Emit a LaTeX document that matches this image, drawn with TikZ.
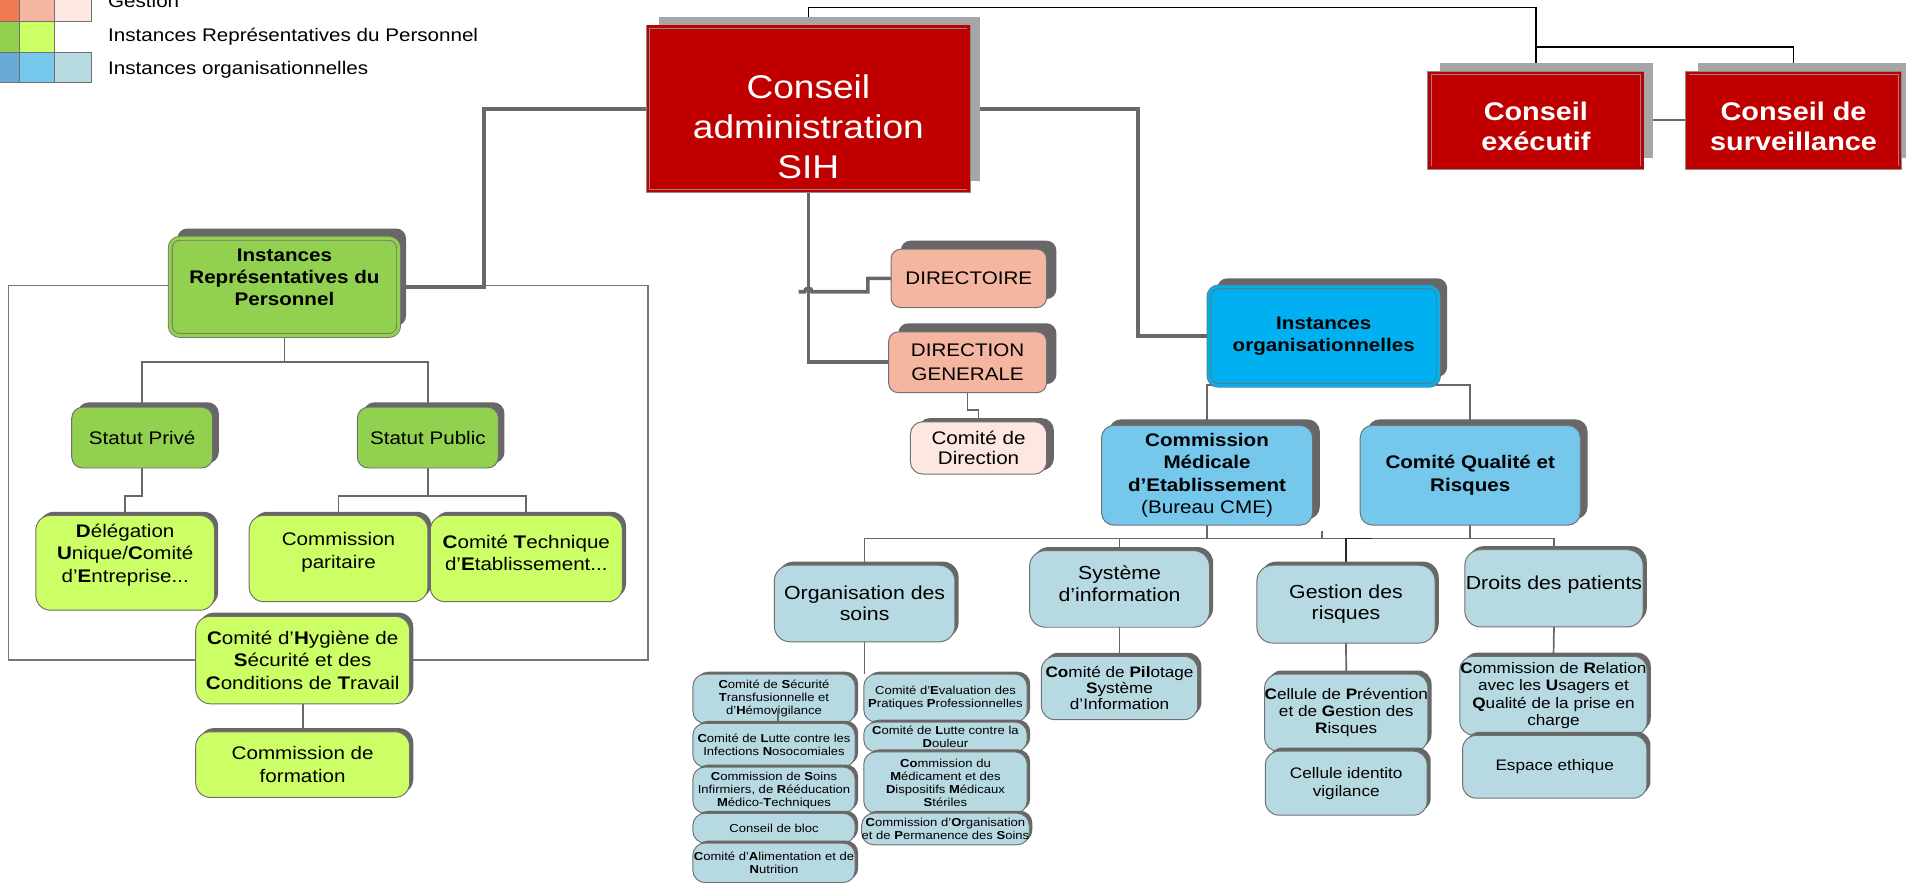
\documentclass[tikz,border=0pt]{standalone}
\usepackage{fontspec}
\setmainfont{Liberation Sans}[FakeStretch=1.13]
\usetikzlibrary{shadows}
\definecolor{cred}{HTML}{C00000}
\definecolor{credb}{HTML}{8A8A8A}
\definecolor{clsh}{HTML}{A6A6A6}
\definecolor{cdsh}{HTML}{686666}
\definecolor{cbord}{HTML}{707070}
\definecolor{cline}{HTML}{686868}
\definecolor{cgreen}{HTML}{92D050}
\definecolor{clime}{HTML}{CCFF66}
\definecolor{cio}{HTML}{00B0F0}
\definecolor{cmid}{HTML}{75C7EC}
\definecolor{cpale}{HTML}{B7D9E1}
\definecolor{csalmon}{HTML}{F4B6A0}
\definecolor{cpink}{HTML}{FCE8E1}
\definecolor{corange}{HTML}{EF7B50}
\definecolor{clegblue}{HTML}{6AAAD7}
\newcommand\fsz[2]{\fontsize{#1}{#2}\selectfont}
\pgfdeclarelayer{bg}
\pgfsetlayers{bg,main}
\begin{document}
\begin{tikzpicture}[x=1pt,y=-1pt,
  every node/.style={inner sep=0pt,outer sep=0pt,align=center},
  legc/.style={draw=cbord,line width=0.8pt},
  redbox/.style={draw=credb,line width=0.7pt,double=cred,double distance=2.2pt,fill=cred,
     general shadow={fill=clsh,shadow xshift=9pt,shadow yshift=8pt}},
  rbox/.style={draw=cbord,line width=0.8pt,rounded corners=8pt},
  dsh/.style 2 args={general shadow={fill=cdsh,shadow xshift=#1pt,shadow yshift=#2pt}},
  thickc/.style={draw=cline,line width=3pt},
  midc/.style={draw=cline,line width=1.4pt},
  topc/.style={draw=black,line width=1.2pt},
  blkc/.style={draw=black!85,line width=1.4pt},
  rectc/.style={draw=cline!90,line width=1pt},
  greenbox/.style={rbox,rounded corners=9pt,fill=cgreen,dsh={5}{4},font=\fsz{15}{18}},
  limebox/.style={rbox,rounded corners=12pt,fill=clime,dsh={3}{3},font=\fsz{15}{18.5}},
  salbox/.style={rbox,rounded corners=8pt,fill=csalmon,dsh={8}{7},font=\fsz{15}{19}},
  midbox/.style={rbox,rounded corners=10pt,fill=cmid,dsh={6}{5},font=\fsz{15}{18.2}},
  palebox/.style={rbox,rounded corners=13pt,fill=cpale,dsh={3}{3},font=\fsz{15.5}{17.5}},
  smallbox/.style={rbox,rounded corners=11pt,fill=cpale,dsh={3}{3},font=\fsz{12.5}{14.2}},
  tinybox/.style={rbox,rounded corners=10pt,fill=cpale,dsh={2.5}{2},font=\fsz{9.5}{10.7}}
]
\path[use as bounding box] (0,0) rectangle (1568,726);

% ---------- legend ----------
\draw[legc,fill=corange] (-1,-7) rectangle (16,18);
\draw[legc,fill=csalmon] (16,-7) rectangle (45,18);
\draw[legc,fill=cpink] (45,-7) rectangle (75,18);
\draw[legc,fill=cgreen] (-1,18) rectangle (16,43);
\draw[legc,fill=clime] (16,18) rectangle (45,43);
\draw[legc,fill=clegblue] (-1,43) rectangle (16,68);
\draw[legc,fill=cmid] (16,43) rectangle (45,68);
\draw[legc,fill=cpale] (45,43) rectangle (75,68);
\node[anchor=base west,font=\fsz{15}{18}] (lg1) at (89,6) {Gestion};
\node[anchor=base west,font=\fsz{15}{18}] (lg2) at (89,34.3) {Instances Représentatives du Personnel};
\node[anchor=base west,font=\fsz{15}{18}] (lg3) at (89,61) {Instances organisationnelles};

% ---------- red boxes ----------
\node[redbox,minimum width=264pt,minimum height=135pt] (ca) at (665,89.5) {};
\node[text=white,font=\fsz{27}{33}] (cat) at (665,104) {Conseil\\administration\\SIH};
\node[redbox,minimum width=175pt,minimum height=78pt] (ce) at (1263.5,99) {};
\node[text=white,font=\bfseries\fsz{21}{24}] (cet) at (1263.5,104) {Conseil\\exécutif};
\node[redbox,minimum width=175pt,minimum height=78pt] (cs) at (1475.5,99) {};
\node[text=white,font=\bfseries\fsz{21}{24}] (cst) at (1475.5,104) {Conseil de\\surveillance};

% ---------- IRP group ----------
\node[rbox,fill=cgreen,double=cgreen,double distance=2.5pt,line width=0.7pt,dsh={6}{8},
      minimum width=188pt,minimum height=80pt] (irp) at (234,236) {};
\node[font=\bfseries\fsz{15}{18}] (irpt) at (234,228) {Instances\\Représentatives du\\Personnel};
\node[greenbox,minimum width=116pt,minimum height=50pt] (sp) at (117,360) {Statut Privé};
\node[greenbox,minimum width=116pt,minimum height=50pt] (spu) at (352,360) {Statut Public};
\node[limebox,minimum width=147pt,minimum height=78pt] (dup) at (103,463) {};
\node[font=\fsz{15}{18.5}] (dupt) at (103,456.5) {\textbf{D}élégation\\\textbf{U}nique/\textbf{C}omité\\d’\textbf{E}ntreprise...};
\node[limebox,minimum width=147pt,minimum height=71pt] (cp) at (278.5,459.5) {};
\node[font=\fsz{15}{19}] (cpt) at (278.5,454.5) {Commission\\paritaire};
\node[limebox,minimum width=158pt,minimum height=71pt] (cte) at (433,459.5) {};
\node[font=\fsz{15}{18}] (ctet) at (433,454.5) {\textbf{C}omité \textbf{T}echnique\\d’\textbf{E}tablissement...};
\node[limebox,minimum width=176pt,minimum height=72pt] (chs) at (249,543)
  {\textbf{C}omité d’\textbf{H}ygiène de\\\textbf{S}écurité et des\\\textbf{C}onditions de \textbf{T}ravail};
\node[limebox,minimum width=176pt,minimum height=54pt] (cf) at (249,629) {Commission de\\formation};

% ---------- Gestion group ----------
\node[salbox,minimum width=128pt,minimum height=48pt] (dir) at (797,229) {DIRECTOIRE};
\node[salbox,minimum width=130pt,minimum height=50pt] (dg) at (796,298) {DIRECTION\\GENERALE};
\node[rbox,rounded corners=10pt,fill=cpink,dsh={6}{3},font=\fsz{15}{17},
      minimum width=112pt,minimum height=43pt] (cdd) at (805,368.5) {Comité de\\Direction};

% ---------- organisational group ----------
\node[rbox,fill=cio,double=cio,double distance=2.5pt,line width=0.7pt,dsh={7}{7},
      font=\bfseries\fsz{15}{18},minimum width=189pt,minimum height=81pt] (io) at (1089,276.5)
      {Instances\\organisationnelles};
\node[midbox,minimum width=173.5pt,minimum height=82pt] (cme) at (993,391)
  {\textbf{Commission}\\\textbf{Médicale}\\\textbf{d’Etablissement}\\(Bureau CME)};
\node[midbox,font=\bfseries\fsz{15}{18.5},minimum width=181pt,minimum height=82pt] (cqr) at (1209.5,391)
  {Comité Qualité et\\Risques};

\node[palebox,minimum width=148.6pt,minimum height=63pt] (os) at (711.3,496.5) {Organisation des\\soins};
\node[palebox,minimum width=148pt,minimum height=63pt] (si) at (921,484.5) {};
\node[font=\fsz{15.5}{18}] (sit) at (921,480.5) {Système\\d’information};
\node[palebox,minimum width=146.6pt,minimum height=64pt] (gr) at (1107.3,497) {Gestion des\\risques};
\node[palebox,minimum width=146.7pt,minimum height=63.5pt] (dp) at (1278.4,484) {};
\node[font=\fsz{15.5}{18}] (dpt) at (1278.4,481) {Droits des patients};

\node[smallbox,font=\fsz{12.5}{13.5},minimum width=128.5pt,minimum height=52pt] (pil) at (921,566)
  {\textbf{Co}mité de \textbf{Pil}otage\\\textbf{S}ystème\\d’Information};
\node[smallbox,minimum width=133pt,minimum height=63.4pt] (cpgr) at (1107.5,586.3)
  {\textbf{C}ellule de \textbf{P}révention\\et de \textbf{G}estion des\\\textbf{R}isques};
\node[smallbox,font=\fsz{12.5}{15},minimum width=133pt,minimum height=52.6pt] (civ) at (1107.5,644.3)
  {Cellule identito\\vigilance};
\node[smallbox,minimum width=154pt,minimum height=64.7pt] (cruq) at (1278,572.3)
  {\textbf{C}ommission de \textbf{R}elation\\avec les \textbf{U}sagers et\\\textbf{Q}ualité de la prise en\\charge};
\node[smallbox,minimum width=151.5pt,minimum height=51.6pt] (ee) at (1279,630.8) {Espace ethique};

% tiny boxes, left column
\node[tinybox,minimum width=133.5pt,minimum height=40.4pt] (t1) at (636.75,574.8)
  {\textbf{C}omité de \textbf{S}écurité\\\textbf{T}ransfusionnelle et\\d’\textbf{H}émovigilance};
\node[tinybox,minimum width=133.5pt,minimum height=36pt] (t2) at (636.75,613)
  {\textbf{C}omité de \textbf{L}utte contre les\\Infections \textbf{N}osocomiales};
\node[tinybox,minimum width=133.5pt,minimum height=38pt] (t3) at (636.75,650)
  {\textbf{C}ommission de \textbf{S}oins\\Infirmiers, de \textbf{R}ééducation\\\textbf{M}édico-\textbf{T}echniques};
\node[tinybox,minimum width=133.5pt,minimum height=24.5pt] (t4) at (636.75,681.3) {Conseil de bloc};
\node[tinybox,minimum width=133.5pt,minimum height=32.5pt] (t5) at (636.75,709.8)
  {\textbf{C}omité d’\textbf{A}limentation et de\\\textbf{N}utrition};
% tiny boxes, right column
\node[tinybox,minimum width=134.4pt,minimum height=39.4pt] (u1) at (777.8,574.3)
  {Comité d'\textbf{E}valuation des\\\textbf{P}ratiques \textbf{P}rofessionnelles};
\node[tinybox,minimum width=134.4pt,minimum height=24.5pt] (u2) at (777.8,606.3)
  {\textbf{C}omité de \textbf{L}utte contre la\\\textbf{D}ouleur};
\node[tinybox,minimum width=134.4pt,minimum height=50.5pt] (u3) at (777.8,643.8)
  {\textbf{Co}mmission du\\\textbf{M}édicament et des\\\textbf{D}ispositifs \textbf{M}édicaux\\\textbf{S}tériles};
\node[tinybox,minimum width=134.4pt,minimum height=26pt] (u4) at (777.8,682)
  {\textbf{C}ommission d’\textbf{O}rganisation\\et de \textbf{P}ermanence des \textbf{S}oins};

\coordinate (tt) at (640,584);
\draw[midc,line width=1pt] (tt) -- (tt |- t2.north);

% ---------- connectors (behind) ----------
\begin{pgfonlayer}{bg}
\draw[rectc] (7,235) rectangle (533,543);
% top
\coordinate (tb) at (1263.5,38.5);
\draw[topc] (ca.north) -- (665,6) -| (ce.north);
\draw[topc] (tb) -| (cs.north);
\draw[midc] (ce.east) -- (cs.west);
% thick
\coordinate (k1) at (398,236);
\draw[thickc] (ca.west) -| (k1) -- (irp.east);
\draw[thickc] (ca.south) |- (dg.west);
\coordinate (hs) at (657,240);
\draw[thickc] (hs) -- (662,240) arc[start angle=180,end angle=360,radius=3] -- (714,240) |- (dir.west);
\coordinate (k2) at (936,276.5);
\draw[thickc] (ca.east) -| (k2) -- (io.west);
% IRP group
\coordinate (j1) at (234,298);
\draw[midc] (irp.south) -- (j1);
\draw[midc] (sp.north) |- (j1) -| (spu.north);
\coordinate (j2) at (117,408);
\draw[midc] (sp.south) -- (j2) -| (dup.north);
\coordinate (j3) at (352,408);
\draw[midc] (spu.south) -- (j3);
\draw[midc] (cp.north) |- (j3) -| (cte.north);
\draw[midc] (chs.south) -- (cf.north);
% gestion
\coordinate (j4) at (796,337);
\draw[midc] (dg.south) -- (j4) -| (cdd.north);
% organisational
\draw[midc] (cme.north) |- (io.south) -| (cqr.north);
\coordinate (R) at (1278.4,443);
\draw[midc] (os.north) |- (R) -- (dp.north);
\draw[midc] (cme.south) -- (cme.south |- R);
\draw[midc] (cqr.south) -- (cqr.south |- R);
\draw[midc] (si.north) -- (si.north |- R);
\draw[blkc] (gr.north) -- (gr.north |- R) -- ++(21,0);
\coordinate (tk) at (1087.5,437);
\draw[midc] (tk) -- (tk |- R);
\draw[midc] (si.south) -- (pil.north);
\draw[midc] (gr.south) -- (cpgr.north);
\draw[midc] (dp.south) -- (cruq.north);
\draw[midc] (os.south) -- (os.south |- u1.north);
\end{pgfonlayer}
\end{tikzpicture}
\end{document}
